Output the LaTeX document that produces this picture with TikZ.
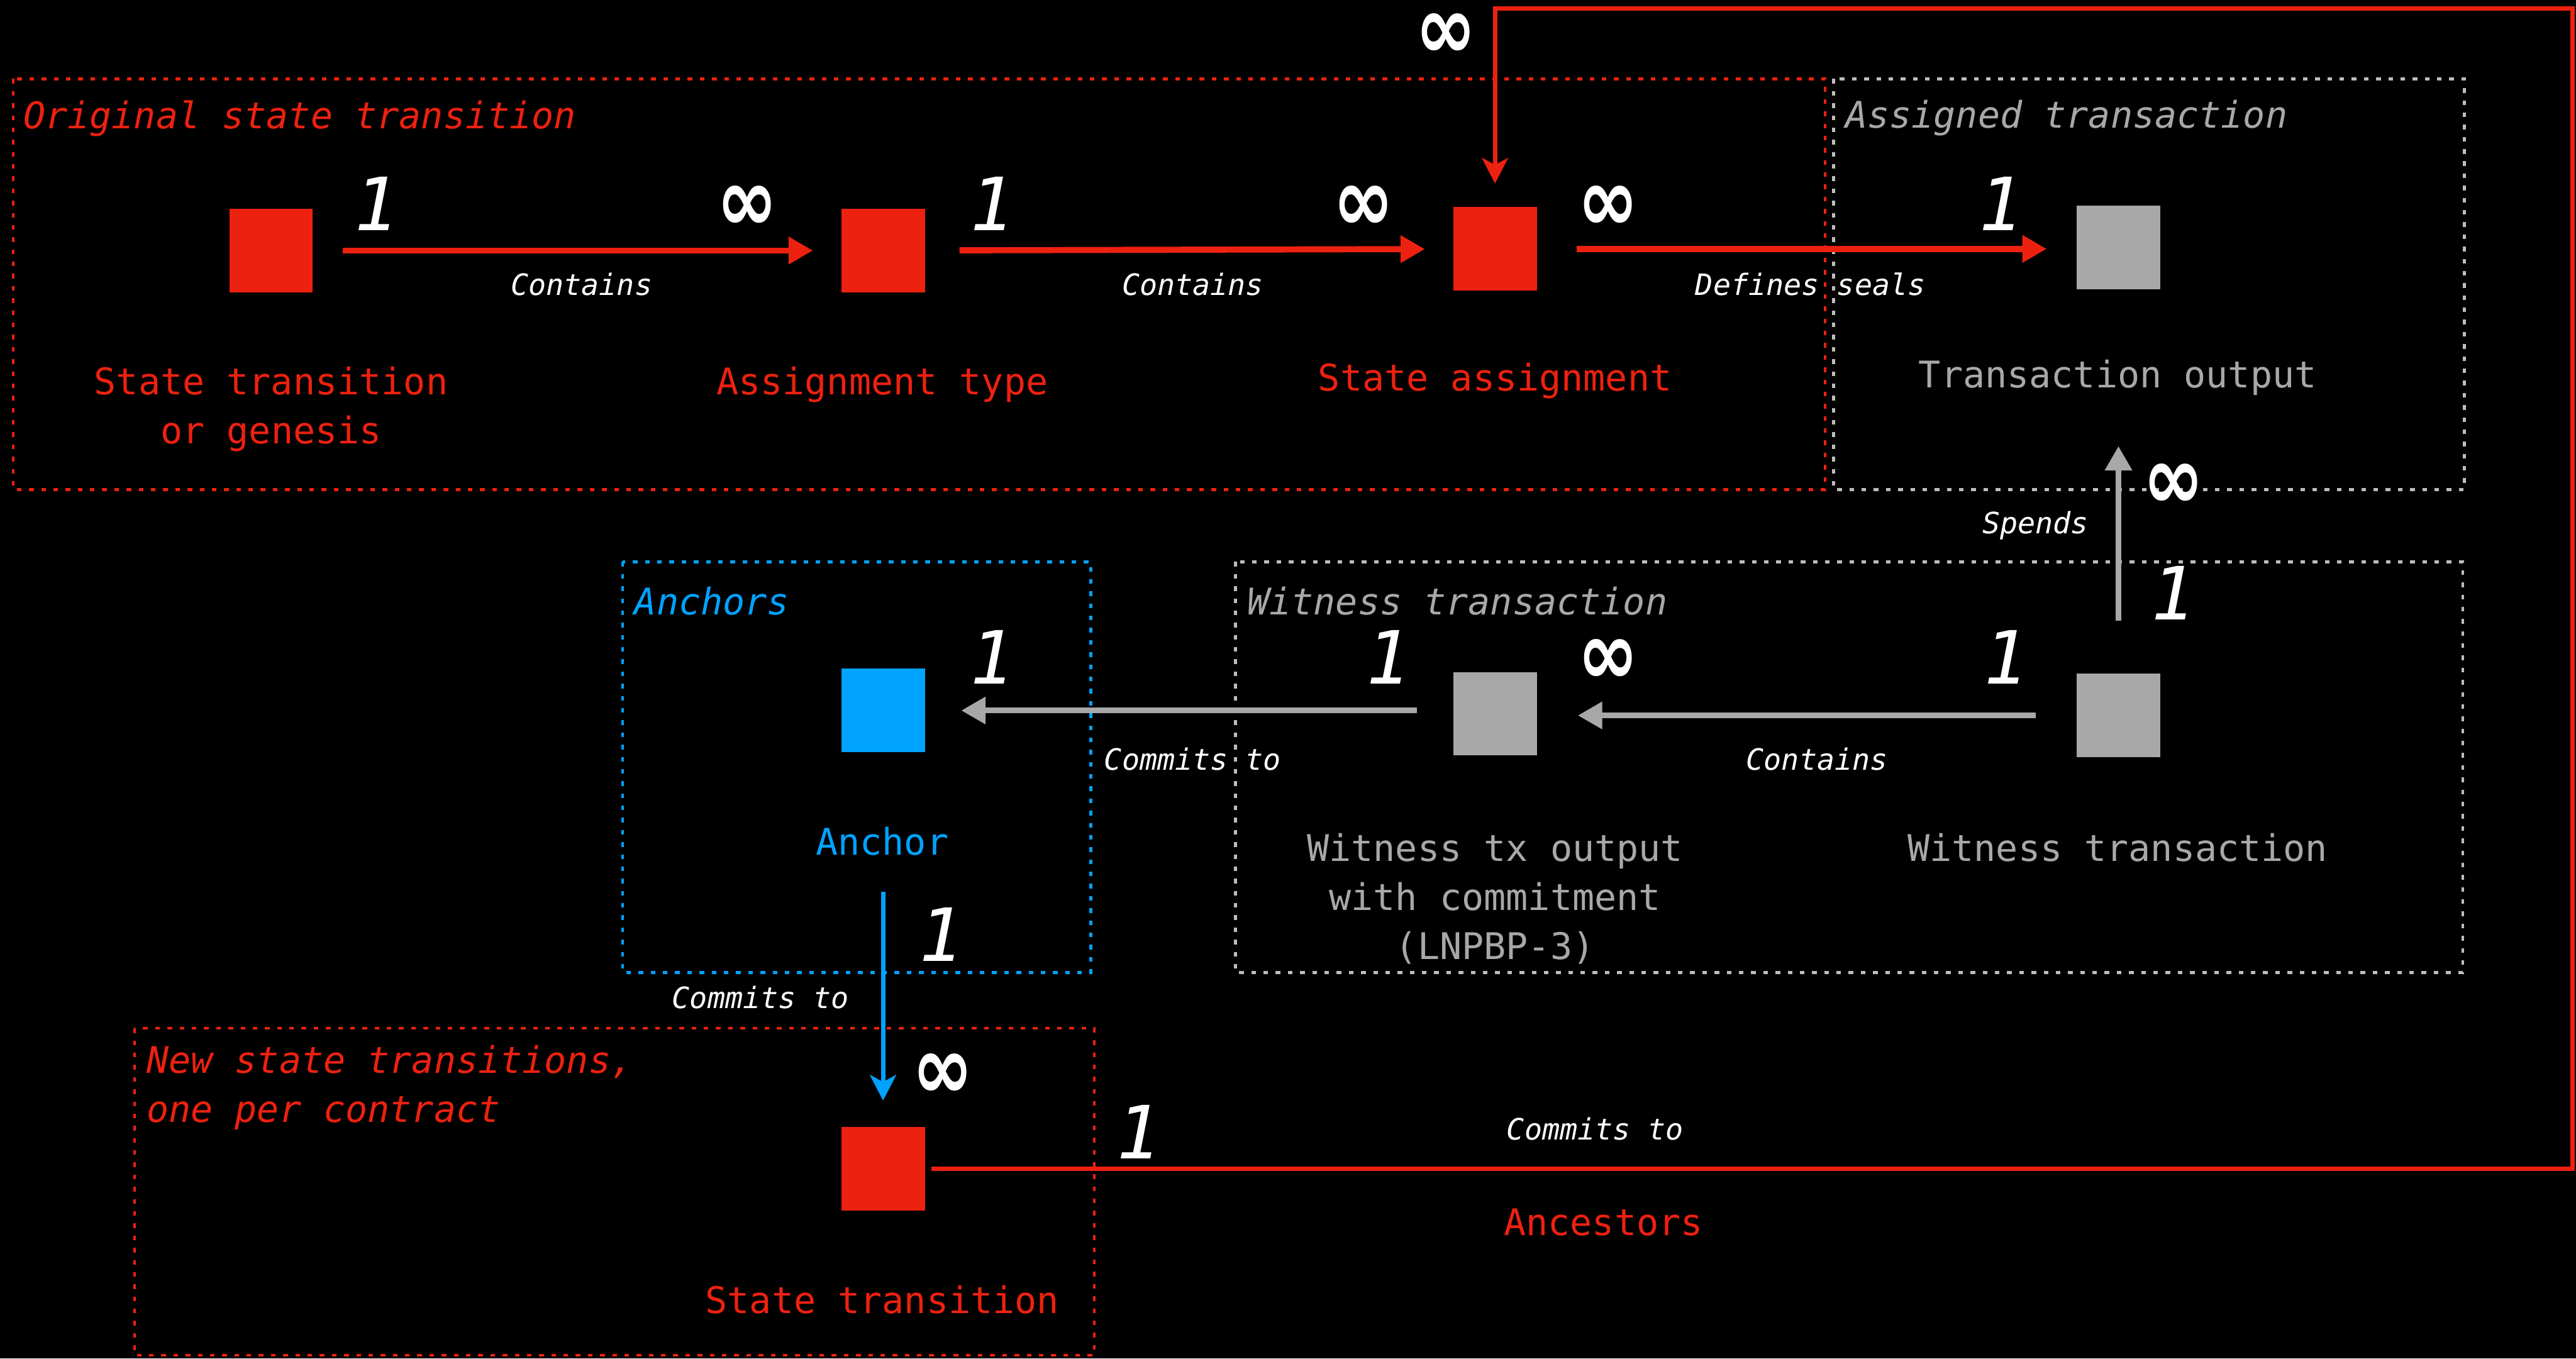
\documentclass[tikz,border=0pt]{standalone}
\usepackage{fontspec}
\setmonofont{DejaVu Sans Mono}
\newfontfamily\inffont{DejaVu Sans}
\usetikzlibrary{arrows.meta}
\definecolor{cred}{RGB}{237,33,15}
\definecolor{cgray}{RGB}{168,168,168}
\definecolor{cboxgray}{RGB}{190,190,190}
\definecolor{cblue}{RGB}{0,163,255}
\newcommand{\infsym}{\scalebox{1}[1.22]{∞}}
\begin{document}
\begin{tikzpicture}[x=0.0283cm,y=-0.0283cm,
  sq/.style={minimum size=1.44cm, inner sep=0pt, draw=none},
  lbl/.style={font=\ttfamily\fontsize{18}{24}\selectfont, align=center, inner sep=0pt},
  ttl/.style={font=\ttfamily\itshape\fontsize{18}{24}\selectfont, anchor=west, align=left, inner sep=0pt},
  rel/.style={font=\ttfamily\itshape\fontsize{14.4}{18}\selectfont, text=white, inner sep=0pt},
  one/.style={font=\ttfamily\itshape\fontsize{36}{40}\selectfont, text=white, inner sep=0pt},
  inf/.style={font=\inffont\bfseries\fontsize{36}{40}\selectfont, text=white, inner sep=0pt},
  boxline/.style={line width=0.048cm, dash pattern=on 0.08cm off 0.13cm},
  tri/.style={-{Triangle[length=0.42cm,width=0.45cm]}},
  stl/.style={-{Stealth[length=0.44cm,width=0.45cm,inset=0.12cm]}},
  redarr/.style={draw=cred, line width=0.105cm, tri},
  grayarr/.style={draw=cgray, line width=0.1cm, tri},
]
% background
\fill[black] (0,0) rectangle (1568,827);
\useasboundingbox (0,0) rectangle (1568,827);

% group boxes
\draw[boxline, draw=cred] (8,48) rectangle (1111,298);
\draw[boxline, draw=cboxgray] (1116,48) rectangle (1500,298);
\draw[boxline, draw=cblue] (379,342) rectangle (664,592);
\draw[boxline, draw=cboxgray] (752,342) rectangle (1499,592);
\draw[boxline, draw=cred] (82,626) rectangle (666,825);

\node[ttl, text=cred] (t1) at (14,72) {Original state transition};
\node[ttl, text=cgray] (t2) at (1123,72) {Assigned transaction};
\node[ttl, text=cblue] (t3) at (386,366) {Anchors};
\node[ttl, text=cgray] (t4) at (759,366) {Witness transaction};
\node[ttl, text=cred, anchor=north west] (t5) at (89,636) {New state transitions,\\one per contract};

% squares
\node[sq, fill=cred] (st) at (165,152.5) {};
\node[sq, fill=cred] (at) at (537.5,152.5) {};
\node[sq, fill=cred] (sa) at (910,151.5) {};
\node[sq, fill=cgray] (to) at (1289.5,150.5) {};
\node[sq, fill=cblue] (an) at (537.5,432.5) {};
\node[sq, fill=cgray] (wo) at (910,434.5) {};
\node[sq, fill=cgray] (wt) at (1289.5,435.5) {};
\node[sq, fill=cred] (ns) at (537.5,711.5) {};

% square labels
\node[lbl, text=cred] (stL) at (165,249) {State transition\\or genesis};
\node[lbl, text=cred] (atL) at (537,234) {Assignment type};
\node[lbl, text=cred] (saL) at (910,232) {State assignment};
\node[lbl, text=cgray] (toL) at (1289,230) {Transaction output};
\node[lbl, text=cblue] (anL) at (537,512) {Anchor};
\node[lbl, text=cgray] (woL) at (910,547) {Witness tx output\\with commitment\\(LNPBP-3)};
\node[lbl, text=cgray] (wtL) at (1289,516) {Witness transaction};
\node[lbl, text=cred] (nsL) at (537,791) {State transition};
\node[lbl, text=cred] (ancL) at (976,744) {Ancestors};

% connectors
\draw[redarr, shorten <=0.51cm, shorten >=0.48cm] (st) -- (at);
\draw[redarr, shorten <=0.59cm, shorten >=0.48cm] (at) -- (sa);
\draw[redarr, shorten <=0.68cm, shorten >=0.51cm] (sa.east) -- (to.west |- sa.east);
\draw[grayarr, shorten <=0.9cm, shorten >=2.7cm] (wt.north) -- (to.south);
\draw[grayarr, shorten <=0.7cm, shorten >=0.7cm] (wt.west) -- (wo.east |- wt.west);
\draw[grayarr, shorten <=0.62cm, shorten >=0.62cm] (wo.west |- an.east) -- (an.east);
\draw[draw=cblue, line width=0.075cm, stl, shorten <=2.4cm, shorten >=0.45cm] (an.south) -- (ns.north);
\coordinate (cr) at (1566,5);
\draw[draw=cred, line width=0.075cm, stl, shorten <=0.11cm, shorten >=0.4cm] (ns.east) -| (cr) -| (sa.north);

% relation labels
\node[rel] (r1) at (354,173) {Contains};
\node[rel] (r2) at (726,173) {Contains};
\node[rel] (r3) at (1102,173) {Defines seals};
\node[rel] (r4) at (1239,320) {Spends};
\node[rel] (r5) at (1106,462) {Contains};
\node[rel] (r6) at (726,462) {Commits to};
\node[rel] (r7) at (463,607) {Commits to};
\node[rel] (r8) at (971,687) {Commits to};

% cardinalities
\node[one] (n1) at (229,124) {1};
\node[inf] (n2) at (455,127) {\infsym};
\node[one] (n3) at (604,124) {1};
\node[inf] (n4) at (830,127) {\infsym};
\node[inf] (n5) at (979,127) {\infsym};
\node[one] (n6) at (1218,124) {1};
\node[inf] (n7) at (880,22) {\infsym};
\node[inf] (n8) at (1323,296) {\infsym};
\node[one] (n9) at (1323,361) {1};
\node[one] (n10) at (1221,400) {1};
\node[inf] (n11) at (979,403) {\infsym};
\node[one] (n12) at (845,400) {1};
\node[one] (n13) at (604,400) {1};
\node[one] (n14) at (573,569) {1};
\node[inf] (n15) at (574,655) {\infsym};
\node[one] (n16) at (693,689) {1};
\end{tikzpicture}
\end{document}
